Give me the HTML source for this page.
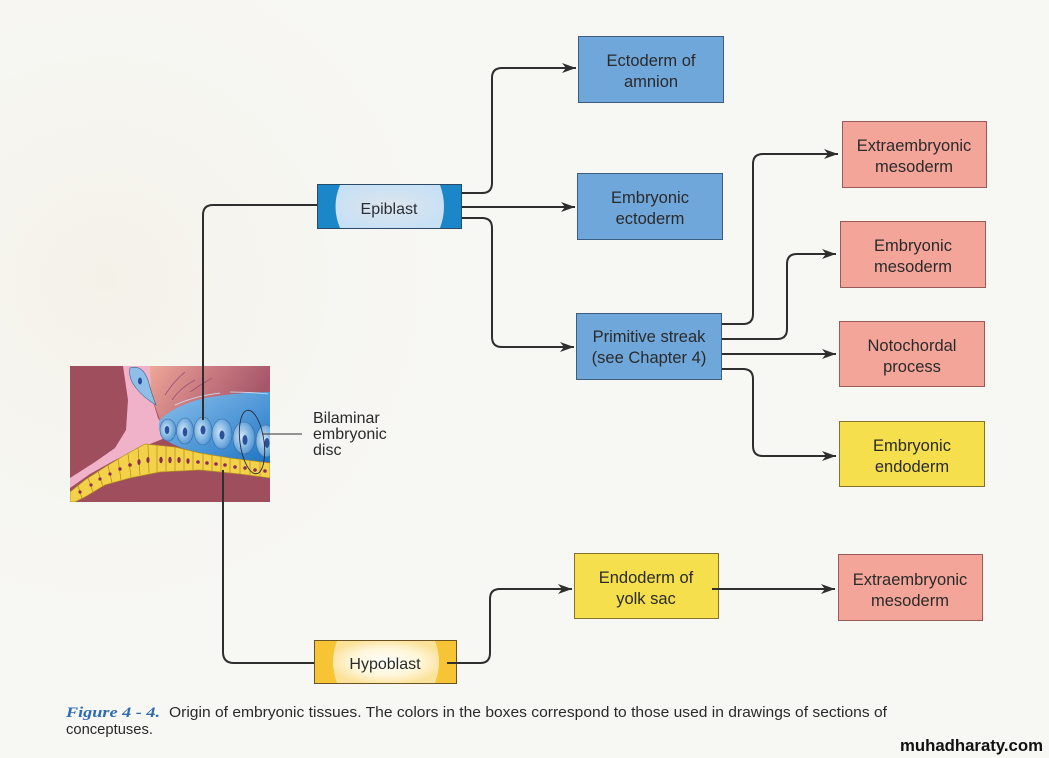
<!DOCTYPE html>
<html><head><meta charset="utf-8"><style>
html,body{margin:0;padding:0;background:#f7f7f4;}
svg{display:block;}
</style></head><body>
<svg width="1049" height="758" viewBox="0 0 1049 758" xmlns="http://www.w3.org/2000/svg">
<defs>
<marker id="ah" markerUnits="userSpaceOnUse" markerWidth="15" markerHeight="11" refX="14" refY="5" orient="auto">
<path d="M0,0 L14,5 L0,10 L4,5 Z" fill="#2e2e2e"/>
</marker>
<radialGradient id="bgc" cx="0.15" cy="0.4" r="0.6">
<stop offset="0" stop-color="#f4f1e8"/><stop offset="1" stop-color="#f7f7f4" stop-opacity="0"/>
</radialGradient>
<linearGradient id="salmon" x1="0" y1="0" x2="1" y2="0.3">
<stop offset="0" stop-color="#eea898"/><stop offset="0.5" stop-color="#c97a80"/><stop offset="1" stop-color="#a5566a"/>
</linearGradient>
<linearGradient id="bluecells" x1="0" y1="0" x2="1" y2="1">
<stop offset="0" stop-color="#8cc0ea"/><stop offset="0.6" stop-color="#4a94d6"/><stop offset="1" stop-color="#1f74c2"/>
</linearGradient>
<radialGradient id="cellg" cx="0.4" cy="0.45" r="0.6">
<stop offset="0" stop-color="#cfe6f8"/><stop offset="1" stop-color="#4f95d4"/>
</radialGradient>
<radialGradient id="hypo" cx="0.5" cy="0.5" r="0.55">
<stop offset="0" stop-color="#ffffff"/><stop offset="0.6" stop-color="#fff6d8"/><stop offset="1" stop-color="#fbe29a"/>
</radialGradient>
<radialGradient id="epi" cx="0.5" cy="0.5" r="0.6">
<stop offset="0" stop-color="#dde5ec"/><stop offset="1" stop-color="#c6e0f6"/>
</radialGradient>
<clipPath id="imgclip"><rect x="70" y="366" width="200" height="136"/></clipPath>
</defs>

<rect x="0" y="0" width="1049" height="758" fill="#f7f7f4"/>
<rect x="0" y="0" width="700" height="700" fill="url(#bgc)"/>

<!-- Illustration -->
<g clip-path="url(#imgclip)">
<rect x="70" y="366" width="200" height="136" fill="#9e4e5c"/>
<path d="M148,366 L270,366 L270,394 L240,393 L200,400 L170,412 L160,420 L152,398 Z" fill="url(#salmon)"/>
<path d="M165,395 Q175,380 185,372 M172,400 Q180,388 195,380 M190,392 Q200,385 212,378" stroke="#8a4a70" stroke-width="0.7" fill="none"/>
<path d="M123,366 L150,366 L151,395 L158,418 L170,436 L145,446 L115,460 L90,474 L70,488 L70,478 L95,462 L115,448 L126,430 L128,400 Z" fill="#f0b2c8"/>
<path d="M130,368 Q142,364 148,380 Q152,395 156,405 Q144,398 136,388 Q128,378 130,368 Z" fill="#8fbfe8" stroke="#3a5f8a" stroke-width="0.6"/>
<ellipse cx="140" cy="381" rx="2" ry="3.5" fill="#2a4f9a"/>
<path d="M160,420 Q175,405 205,398 Q240,392 270,392 L270,462 Q240,461 210,455 Q180,450 166,440 Q156,430 160,420 Z" fill="url(#bluecells)"/>
<g fill="url(#cellg)" stroke="#3a6aa0" stroke-width="0.6">
<ellipse cx="168" cy="430" rx="8" ry="11"/>
<ellipse cx="185" cy="431" rx="8.5" ry="13"/>
<ellipse cx="203" cy="431" rx="9" ry="14"/>
<ellipse cx="222" cy="434" rx="10" ry="15"/>
<ellipse cx="244" cy="438" rx="11" ry="16"/>
<ellipse cx="266" cy="441" rx="10" ry="16"/>
</g>
<g fill="#2c4f9c">
<ellipse cx="167" cy="430" rx="2.3" ry="4"/>
<ellipse cx="185" cy="432" rx="2.3" ry="4.5"/>
<ellipse cx="203" cy="430" rx="2.5" ry="4.5"/>
<ellipse cx="222" cy="435" rx="2.5" ry="4.5"/>
<ellipse cx="245" cy="440" rx="2.5" ry="5"/>
<ellipse cx="267" cy="443" rx="2.5" ry="5"/>
</g>
<path d="M175,405 Q195,396 220,393 M230,392 Q250,392 268,394" stroke="#cfe6f8" stroke-width="0.8" fill="none"/>
<path d="M70,492 L85,480 L105,467 L125,455 L145,444 L175,447 L200,453 L230,458 L270,463 L270,478 L240,474 L200,470 L160,472 L130,478 L105,485 L85,497 L75,502 L70,502 Z" fill="#f3d24a" stroke="#b08a20" stroke-width="0.7"/>
<g stroke="#b08a20" stroke-width="0.7">
<line x1="78" y1="486" x2="82" y2="498"/><line x1="88" y1="478" x2="93" y2="492"/>
<line x1="98" y1="471" x2="103" y2="487"/><line x1="108" y1="465" x2="112" y2="483"/>
<line x1="118" y1="459" x2="121" y2="480"/><line x1="128" y1="454" x2="131" y2="477"/>
<line x1="138" y1="448" x2="140" y2="475"/><line x1="148" y1="445" x2="149" y2="473"/>
<line x1="157" y1="445" x2="157" y2="472"/><line x1="166" y1="446" x2="166" y2="471"/>
<line x1="175" y1="447" x2="175" y2="471"/><line x1="184" y1="449" x2="184" y2="470"/>
<line x1="193" y1="451" x2="193" y2="470"/><line x1="203" y1="454" x2="203" y2="470"/>
<line x1="212" y1="455" x2="212" y2="471"/><line x1="221" y1="457" x2="221" y2="472"/>
<line x1="230" y1="458" x2="230" y2="473"/><line x1="240" y1="460" x2="240" y2="474"/>
<line x1="250" y1="461" x2="250" y2="476"/><line x1="260" y1="462" x2="260" y2="477"/>
</g>
<g fill="#8a2c55">
<circle cx="80" cy="492" r="1.6"/><circle cx="91" cy="485" r="1.6"/><circle cx="100" cy="479" r="1.6"/>
<circle cx="110" cy="474" r="1.6"/><circle cx="120" cy="469" r="1.7"/><circle cx="130" cy="465" r="1.8"/>
<ellipse cx="139" cy="462" rx="1.6" ry="3"/><ellipse cx="148" cy="460" rx="1.6" ry="3"/>
<ellipse cx="161" cy="460" rx="1.7" ry="3.2"/><ellipse cx="170" cy="460" rx="1.7" ry="3.2"/>
<ellipse cx="179" cy="460" rx="1.7" ry="3"/><ellipse cx="188" cy="461" rx="1.6" ry="2.8"/>
<circle cx="198" cy="462" r="1.8"/><circle cx="207" cy="463" r="1.8"/><circle cx="216" cy="464" r="1.8"/>
<circle cx="225" cy="465" r="1.8"/><circle cx="235" cy="467" r="1.8"/><circle cx="245" cy="468" r="1.8"/>
<circle cx="255" cy="470" r="1.8"/><circle cx="265" cy="471" r="1.8"/>
</g>
<ellipse cx="252" cy="442" rx="12" ry="32" fill="none" stroke="#2a2a3a" stroke-width="0.9" transform="rotate(-8 252 442)"/>
</g>
<line x1="262" y1="434" x2="302" y2="434" stroke="#333" stroke-width="1"/>
<text font-family="Liberation Sans, sans-serif" font-size="16" fill="#2a2a2a">
<tspan x="313" y="423">Bilaminar</tspan>
<tspan x="313" y="439">embryonic</tspan>
<tspan x="313" y="455">disc</tspan>
</text>

<!-- connectors -->
<g fill="none" stroke="#2e2e2e" stroke-width="2">
<path d="M317,205 H213 Q203,205 203,215 V420"/>
<path d="M223,470 V652 Q223,663 234,663 H314"/>
<path d="M462,193 H482 Q492,193 492,183 V78 Q492,68 502,68 H576" marker-end="url(#ah)"/>
<path d="M462,207 H575" marker-end="url(#ah)"/>
<path d="M462,218 H482 Q492,218 492,228 V337 Q492,347 502,347 H574" marker-end="url(#ah)"/>
<path d="M722,324 H743 Q753,324 753,314 V164 Q753,154 763,154 H838" marker-end="url(#ah)"/>
<path d="M722,339 H777 Q787,339 787,329 V264 Q787,254 797,254 H836" marker-end="url(#ah)"/>
<path d="M722,354 H836" marker-end="url(#ah)"/>
<path d="M722,369 H743 Q753,369 753,379 V446 Q753,456 763,456 H836" marker-end="url(#ah)"/>
<path d="M448,663 H480 Q490,663 490,653 V599 Q490,589 500,589 H572" marker-end="url(#ah)"/>
<path d="M712,589 H835" marker-end="url(#ah)"/>
</g>

<!-- Epiblast -->
<rect x="317.5" y="184.5" width="144" height="44" fill="#1b87c9" stroke="#2a4a66" stroke-width="1"/>
<path d="M340,185 Q331,206.5 340,228 L440,228 Q448,206.5 440,185 Z" fill="url(#epi)"/>
<text x="389" y="214" text-anchor="middle" font-family="Liberation Sans, sans-serif" font-size="16" fill="#2a2e36">Epiblast</text>

<!-- Hypoblast -->
<rect x="314.5" y="640.5" width="142" height="43" fill="#f6c434" stroke="#6a5224" stroke-width="1"/>
<path d="M337,641 Q329,662 337,683 L435,683 Q443,662 435,641 Z" fill="url(#hypo)"/>
<text x="385" y="669" text-anchor="middle" font-family="Liberation Sans, sans-serif" font-size="16" fill="#2a2a2a">Hypoblast</text>
<line x1="447" y1="663" x2="458" y2="663" stroke="#2e2e2e" stroke-width="2"/>

<!-- blue boxes -->
<g stroke="#3c5d7e" stroke-width="1" fill="#70a7da">
<rect x="578.5" y="36.5" width="145" height="66"/>
<rect x="577.5" y="173.5" width="145" height="66"/>
<rect x="576.5" y="313.5" width="145" height="66"/>
</g>
<!-- pink boxes -->
<g stroke="#9a5a58" stroke-width="1" fill="#f4a59a">
<rect x="842.5" y="121.5" width="144" height="66"/>
<rect x="840.5" y="221.5" width="145" height="66"/>
<rect x="839.5" y="321.5" width="145" height="65"/>
<rect x="838.5" y="554.5" width="144" height="66"/>
</g>
<!-- yellow boxes -->
<g stroke="#857230" stroke-width="1" fill="#f5df4c">
<rect x="839.5" y="421.5" width="145" height="65"/>
<rect x="574.5" y="553.5" width="144" height="65"/>
</g>
<line x1="712" y1="589" x2="720" y2="589" stroke="#2e2e2e" stroke-width="2"/>

<g font-family="Liberation Sans, sans-serif" font-size="16.5" fill="#2a2a2a" text-anchor="middle">
<text x="651" y="66">Ectoderm of</text><text x="651" y="87">amnion</text>
<text x="650" y="203">Embryonic</text><text x="650" y="224">ectoderm</text>
<text x="649" y="342">Primitive streak</text><text x="649" y="363">(see Chapter 4)</text>
<text x="914" y="151">Extraembryonic</text><text x="914" y="172">mesoderm</text>
<text x="913" y="251">Embryonic</text><text x="913" y="272">mesoderm</text>
<text x="912" y="351">Notochordal</text><text x="912" y="372">process</text>
<text x="912" y="451">Embryonic</text><text x="912" y="472">endoderm</text>
<text x="646" y="583">Endoderm of</text><text x="646" y="604">yolk sac</text>
<text x="910" y="585">Extraembryonic</text><text x="910" y="606">mesoderm</text>
</g>

<!-- caption -->
<text x="66" y="717" font-family="Liberation Serif, serif" font-style="italic" font-weight="bold" font-size="15" fill="#2f6cb4" textLength="94" lengthAdjust="spacingAndGlyphs">Figure 4 - 4.</text>
<text x="169" y="717" font-family="Liberation Sans, sans-serif" font-size="14.5" fill="#2a2a2a" textLength="718" lengthAdjust="spacingAndGlyphs">Origin of embryonic tissues. The colors in the boxes correspond to those used in drawings of sections of</text>
<text x="66" y="734" font-family="Liberation Sans, sans-serif" font-size="14.5" fill="#2a2a2a" textLength="87" lengthAdjust="spacingAndGlyphs">conceptuses.</text>
<text x="900" y="751" font-family="Liberation Sans, sans-serif" font-weight="bold" font-size="17" fill="#111" textLength="143" lengthAdjust="spacingAndGlyphs">muhadharaty.com</text>
</svg>
</body></html>
